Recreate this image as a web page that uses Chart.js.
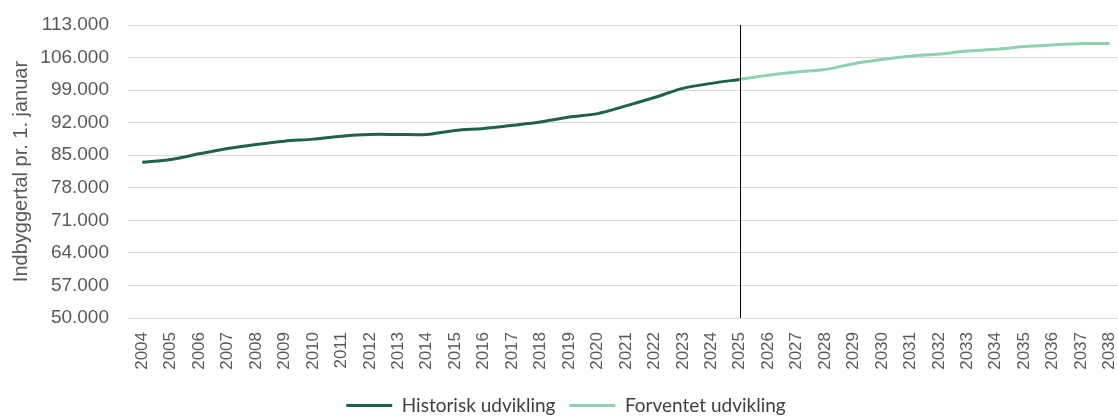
<!DOCTYPE html>
<html>
<head>
<meta charset="utf-8">
<script src="https://cdn.jsdelivr.net/npm/chart.js@4.4.1/dist/chart.umd.min.js"></script>
<style>
  html, body { margin: 0; padding: 0; overflow: hidden; background: #ffffff; }
  #wrap { width: 1144px; height: 417px; position: relative; }
</style>
</head>
<body>
<div id="wrap"><canvas id="c"></canvas></div>
<script>
const years = ['2004','2005','2006','2007','2008','2009','2010','2011','2012','2013','2014','2015','2016','2017','2018','2019','2020','2021','2022','2023','2024','2025','2026','2027','2028','2029','2030','2031','2032','2033','2034','2035','2036','2037','2038'];
const historisk = [83490, 84070, 85300, 86450, 87310, 88020, 88460, 89100, 89470, 89470, 89470, 90340, 90770, 91420, 92140, 93220, 93950, 95600, 97400, 99370, 100450, 101300, null, null, null, null, null, null, null, null, null, null, null, null, null];
const forventet = [null, null, null, null, null, null, null, null, null, null, null, null, null, null, null, null, null, null, null, null, null, 101300, 102200, 102900, 103420, 104670, 105560, 106290, 106740, 107400, 107770, 108360, 108720, 109020, 109020];
const yTicks = [50000, 57000, 64000, 71000, 78000, 85000, 92000, 99000, 106000, 113000];
const dividerYear = '2025';

const fmt = v => String(v).replace(/\B(?=(\d{3})+(?!\d))/g, '.');

const dividerPlugin = {
  id: 'divider',
  afterDatasetsDraw(chart) {
    const x = Math.round(chart.scales.x.getPixelForValue(years.indexOf(dividerYear))) + 0.5;
    const y = chart.scales.y;
    const ctx = chart.ctx;
    ctx.save();
    ctx.strokeStyle = '#000000';
    ctx.lineWidth = 1;
    ctx.beginPath();
    ctx.moveTo(x, y.getPixelForValue(113000));
    ctx.lineTo(x, y.getPixelForValue(50000));
    ctx.stroke();
    ctx.restore();
  }
};

new Chart(document.getElementById('c'), {
  type: 'line',
  data: {
    labels: years,
    datasets: [
      { label: 'Historisk udvikling', data: historisk, borderColor: '#1f6150', backgroundColor: '#1f6150', borderWidth: 3, pointRadius: 0, tension: 0.3, spanGaps: false },
      { label: 'Forventet udvikling', data: forventet, borderColor: '#8fd0ad', backgroundColor: '#8fd0ad', borderWidth: 3, pointRadius: 0, tension: 0.3, spanGaps: false }
    ]
  },
  options: {
    responsive: true,
    maintainAspectRatio: false,
    animation: false,
    layout: { padding: { top: 25, bottom: -8, left: -12, right: 0 } },
    plugins: {
      tooltip: { enabled: false },
      legend: {
        position: 'bottom',
        labels: {
          boxWidth: 46,
          boxHeight: 3,
          padding: 14,
          color: '#404040',
          font: { family: 'Lato', size: 19 },
          generateLabels(chart) {
            return chart.data.datasets.map((ds, i) => ({
              text: ds.label, fillStyle: ds.borderColor, strokeStyle: ds.borderColor,
              lineWidth: 0, hidden: false, datasetIndex: i, fontColor: '#404040'
            }));
          }
        }
      }
    },
    scales: {
      x: {
        type: 'category',
        offset: true,
        afterFit(scale) { scale.height = 64; },
        grid: { display: false, drawTicks: false },
        border: { display: false },
        ticks: {
          color: '#595959', font: { family: 'Liberation Sans', size: 17 },
          maxRotation: 90, minRotation: 90, autoSkip: false, padding: 14
        }
      },
      y: {
        min: 50000, max: 113000,
        afterBuildTicks(scale) { scale.ticks = yTicks.map(v => ({ value: v })); },
        afterFit(scale) { scale.width = 140; scale.paddingTop = 0; scale.paddingBottom = 0; },
        grid: { color: '#d9d9d9', lineWidth: 1, drawTicks: false },
        border: { display: false },
        ticks: {
          color: '#595959', font: { family: 'Liberation Sans', size: 19 }, padding: 19,
          callback: v => fmt(v)
        },
        title: {
          display: true, text: 'Indbyggertal pr. 1. januar', color: '#595959',
          font: { family: 'Liberation Sans', size: 20 }, padding: { top: 21, bottom: 0 }
        }
      }
    }
  },
  plugins: [dividerPlugin]
});
</script>
</body>
</html>
